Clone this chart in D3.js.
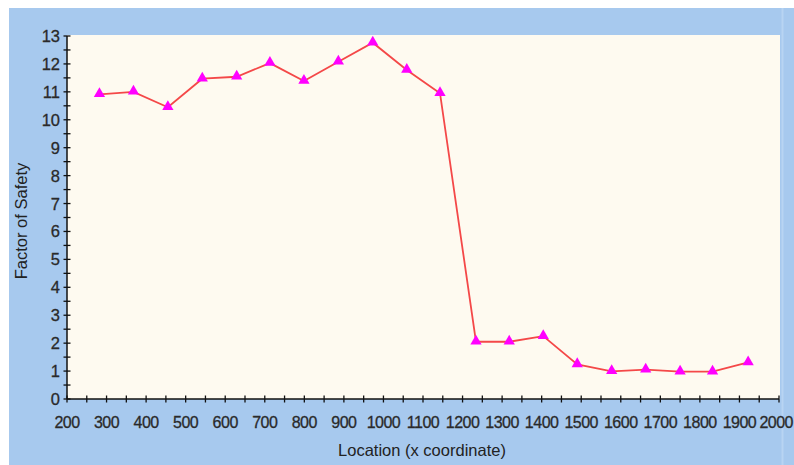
<!DOCTYPE html>
<html><head><meta charset="utf-8">
<script src="https://cdn.jsdelivr.net/npm/d3@7"></script>
<style>
html,body{margin:0;padding:0;background:#fff;}
svg{display:block;}
text{font-family:Arial,"Liberation Sans",sans-serif;}
</style></head>
<body><svg id="c" width="794" height="465"></svg>
<script>
const locations = [282, 368, 455, 542, 629, 713, 799, 886, 973, 1059, 1143, 1234, 1318, 1404, 1490, 1577, 1663, 1750, 1832, 1922];
const factors   = [10.91, 11.0, 10.45, 11.47, 11.54, 12.03, 11.39, 12.08, 12.76, 11.78, 10.95, 2.05, 2.05, 2.25, 1.24, 0.99, 1.05, 0.98, 0.98, 1.31];
const xTickLabels = [200,300,400,500,600,700,800,900,1000,1100,1200,1300,1400,1500,1600,1700,1800,1900,2000];
const yTickLabels = [0,1,2,3,4,5,6,7,8,9,10,11,12,13];
const xTitle = "Location (x coordinate)";
const yTitle = "Factor of Safety";

const svg = d3.select("#c");
const W = 794;
const L = 67, R = 779, T = 36, B = 399;

svg.append("rect").attr("x",9).attr("y",8).attr("width",785).attr("height",457).attr("fill","#a7c9ee");
svg.append("line").attr("x1",782.5).attr("x2",782.5).attr("y1",8).attr("y2",465).attr("stroke","#b8d4f2").attr("stroke-width",2);
svg.append("rect").attr("x",L).attr("y",T-1).attr("width",R-L+1).attr("height",B-T+1).attr("fill","#fefaf0");

const x = d3.scaleLinear().domain([200,2000]).range([L,R]);
const y = d3.scaleLinear().domain([0,13]).range([B,T]);

// minor ticks
const xMinor = d3.range(200,2001,50);
const yMinor = d3.range(0,13.01,0.5);
const g = svg.append("g").attr("stroke","#111").attr("stroke-width",1.3);
g.selectAll(".xm").data(xMinor).join("line")
  .attr("x1",d=>x(d)).attr("x2",d=>x(d)).attr("y1",B-3.5).attr("y2",B+3.5);
g.selectAll(".ym").data(yMinor).join("line")
  .attr("y1",d=>y(d)).attr("y2",d=>y(d)).attr("x1",L-3.5).attr("x2",L+3.5);
g.append("line").attr("x1",L).attr("x2",R).attr("y1",B).attr("y2",B).attr("stroke-width",1.5);
g.append("line").attr("x1",L).attr("x2",L).attr("y1",T).attr("y2",B).attr("stroke-width",1.5);

// tick labels
const lastX = xTickLabels[xTickLabels.length-1];
svg.append("g").selectAll("text").data(xTickLabels).join("text")
  .attr("x",d=>d===lastX ? W-1 : x(d)).attr("y",B+29)
  .attr("text-anchor",d=>d===lastX ? "end" : "middle")
  .attr("font-size",16).attr("letter-spacing",-0.5).attr("fill","#2a2a2a").attr("stroke","#2a2a2a").attr("stroke-width",0.3)
  .text(d=>d);
svg.append("g").selectAll("text").data(yTickLabels).join("text")
  .attr("x",L-7).attr("y",d=>y(d)+6).attr("text-anchor","end")
  .attr("font-size",16.5).attr("fill","#2a2a2a").attr("stroke","#2a2a2a").attr("stroke-width",0.3)
  .text(d=>d);

// titles
svg.append("text").attr("x",422).attr("y",456).attr("text-anchor","middle")
  .attr("font-size",16.5).attr("fill","#222").text(xTitle);
svg.append("text").attr("transform","translate(27,221) rotate(-90)").attr("text-anchor","middle")
  .attr("font-size",16.5).attr("fill","#222").text(yTitle);

// line
const pts = locations.map((d,i)=>[d,factors[i]]);
svg.append("path").datum(pts)
  .attr("d", d3.line().x(d=>x(d[0])).y(d=>y(d[1])))
  .attr("fill","none").attr("stroke","#f44848").attr("stroke-width",1.8);

// markers
const tri = d3.symbol().type(d3.symbolTriangle).size(55);
svg.append("g").selectAll("path").data(pts).join("path")
  .attr("transform",d=>`translate(${x(d[0])},${y(d[1])-0.5})`)
  .attr("d",tri).attr("fill","#ff00ff");
</script></body></html>
